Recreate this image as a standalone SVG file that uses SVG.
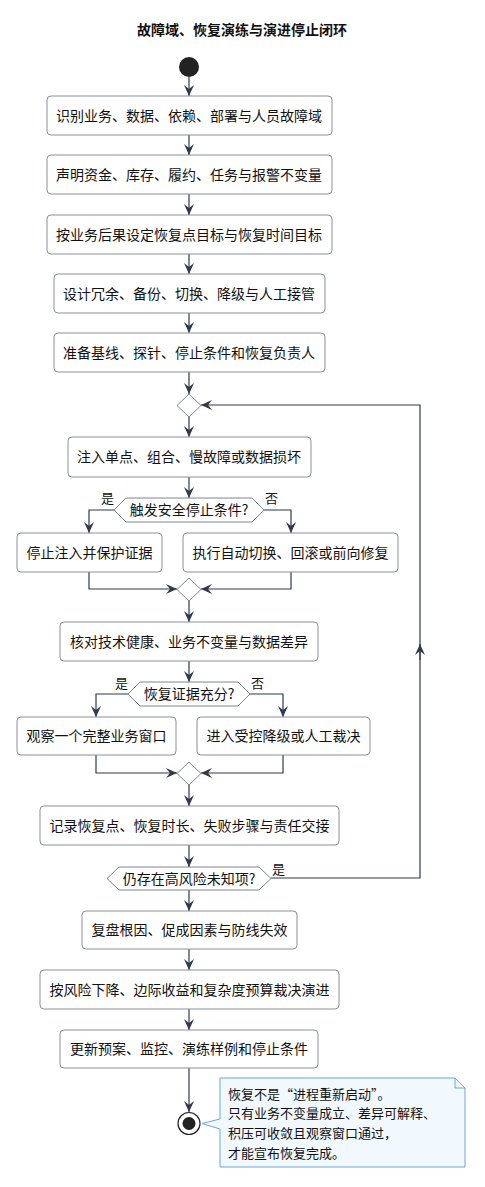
<svg xmlns="http://www.w3.org/2000/svg" width="485" height="1187" viewBox="0 0 485 1187">
<style>
text{font-family:"Noto Sans CJK SC","Noto Sans",sans-serif;fill:#111;}
.t{font-size:14px;text-anchor:middle;}
.title{font-size:14px;font-weight:bold;text-anchor:middle;}
.lbl{font-size:13px;}
.note{font-size:13px;}
.box{fill:#fff;stroke:#8a909b;stroke-width:1;}
.dia{fill:#fff;stroke:#7d8594;stroke-width:1;}
.c{fill:none;stroke:#2f3a4d;stroke-width:1.2;}
</style>
<defs>
<marker id="ah" viewBox="0 0 12 10" refX="11" refY="5" markerWidth="12" markerHeight="10" markerUnits="userSpaceOnUse" orient="auto">
<path d="M0,0 L11,5 L0,10 L4,5 z" fill="#2f3a4d"/>
</marker>
</defs>
<text class="title" x="242" y="35">故障域、恢复演练与演进停止闭环</text>
<g id="connectors">
<path class="c" marker-end="url(#ah)" d="M189,77 V96"/>
<path class="c" marker-end="url(#ah)" d="M189,135 V155"/>
<path class="c" marker-end="url(#ah)" d="M189,194 V215"/>
<path class="c" marker-end="url(#ah)" d="M189,254 V274"/>
<path class="c" marker-end="url(#ah)" d="M189,313 V333"/>
<path class="c" marker-end="url(#ah)" d="M189,372 V394"/>
<path class="c" marker-end="url(#ah)" d="M189,417 V437"/>
<path class="c" marker-end="url(#ah)" d="M189,477 V498"/>
<path class="c" marker-end="url(#ah)" d="M114,510 H89 V533"/>
<path class="c" marker-end="url(#ah)" d="M264,510 H291 V533"/>
<path class="c" marker-end="url(#ah)" d="M89,572 V589 H177"/>
<path class="c" marker-end="url(#ah)" d="M291,572 V589 H201"/>
<path class="c" marker-end="url(#ah)" d="M189,601 V622"/>
<path class="c" marker-end="url(#ah)" d="M189,661 V682"/>
<path class="c" marker-end="url(#ah)" d="M128,694 H96 V717"/>
<path class="c" marker-end="url(#ah)" d="M250,694 H283 V717"/>
<path class="c" marker-end="url(#ah)" d="M96,755 V773 H177"/>
<path class="c" marker-end="url(#ah)" d="M283,755 V773 H201"/>
<path class="c" marker-end="url(#ah)" d="M189,785 V806"/>
<path class="c" marker-end="url(#ah)" d="M189,845 V867"/>
<path class="c" marker-end="url(#ah)" d="M271,878 H420 V405 H201"/>
<path class="c" marker-end="url(#ah)" d="M420,660 V644"/>
<path class="c" marker-end="url(#ah)" d="M189,890 V911"/>
<path class="c" marker-end="url(#ah)" d="M189,949 V970"/>
<path class="c" marker-end="url(#ah)" d="M189,1009 V1030"/>
<path class="c" marker-end="url(#ah)" d="M189,1068 V1112"/>
</g>
<g id="start"><circle cx="189" cy="67" r="10" fill="#222"/></g>
<g id="n1"><rect class="box" x="47" y="96" width="285" height="39" rx="4"/><text class="t" x="189" y="121">识别业务、数据、依赖、部署与人员故障域</text></g>
<g id="n2"><rect class="box" x="47" y="155" width="285" height="39" rx="4"/><text class="t" x="189" y="180">声明资金、库存、履约、任务与报警不变量</text></g>
<g id="n3"><rect class="box" x="47" y="215" width="285" height="39" rx="4"/><text class="t" x="189" y="240">按业务后果设定恢复点目标与恢复时间目标</text></g>
<g id="n4"><rect class="box" x="54" y="274" width="271" height="39" rx="4"/><text class="t" x="189" y="299">设计冗余、备份、切换、降级与人工接管</text></g>
<g id="n5"><rect class="box" x="54" y="333" width="271" height="39" rx="4"/><text class="t" x="189" y="358">准备基线、探针、停止条件和恢复负责人</text></g>
<g id="m1"><polygon class="dia" points="189,394 201,405.5 189,417 177,405.5"/></g>
<g id="n6"><rect class="box" x="68" y="437" width="243" height="40" rx="4"/><text class="t" x="189" y="462">注入单点、组合、慢故障或数据损坏</text></g>
<g id="d1"><polygon class="dia" points="114,510 126,498 252,498 264,510 252,522 126,522"/><text class="t" x="189" y="515">触发安全停止条件?</text>
<text class="lbl" x="101" y="503">是</text><text class="lbl" x="265" y="503">否</text></g>
<g id="n7"><rect class="box" x="17" y="533" width="145" height="39" rx="4"/><text class="t" x="89.5" y="558">停止注入并保护证据</text></g>
<g id="n8"><rect class="box" x="183" y="533" width="215" height="39" rx="4"/><text class="t" x="290.5" y="558">执行自动切换、回滚或前向修复</text></g>
<g id="m2"><polygon class="dia" points="189,578 201,589.5 189,601 177,589.5"/></g>
<g id="n9"><rect class="box" x="60" y="622" width="258" height="39" rx="4"/><text class="t" x="189" y="647">核对技术健康、业务不变量与数据差异</text></g>
<g id="d2"><polygon class="dia" points="128,694 140,682 238,682 250,694 238,706 140,706"/><text class="t" x="189" y="699">恢复证据充分?</text>
<text class="lbl" x="115" y="688">是</text><text class="lbl" x="251" y="688">否</text></g>
<g id="n10"><rect class="box" x="17" y="717" width="159" height="38" rx="4"/><text class="t" x="96.5" y="741">观察一个完整业务窗口</text></g>
<g id="n11"><rect class="box" x="197" y="717" width="173" height="38" rx="4"/><text class="t" x="283.5" y="741">进入受控降级或人工裁决</text></g>
<g id="m3"><polygon class="dia" points="189,762 201,773.5 189,785 177,773.5"/></g>
<g id="n12"><rect class="box" x="40" y="806" width="299" height="39" rx="4"/><text class="t" x="189.5" y="831">记录恢复点、恢复时长、失败步骤与责任交接</text></g>
<g id="d3"><polygon class="dia" points="107,878.5 119,867 259,867 271,878.5 259,890 119,890"/><text class="t" x="189" y="883.5">仍存在高风险未知项?</text>
<text class="lbl" x="272" y="874">是</text></g>
<g id="n13"><rect class="box" x="82" y="911" width="215" height="38" rx="4"/><text class="t" x="189.5" y="935">复盘根因、促成因素与防线失效</text></g>
<g id="n14"><rect class="box" x="40" y="970" width="299" height="39" rx="4"/><text class="t" x="189.5" y="995">按风险下降、边际收益和复杂度预算裁决演进</text></g>
<g id="n15"><rect class="box" x="60" y="1030" width="258" height="38" rx="4"/><text class="t" x="189" y="1054">更新预案、监控、演练样例和停止条件</text></g>
<g id="end"><circle cx="189" cy="1123.5" r="11" fill="#fff" stroke="#222" stroke-width="1.2"/><circle cx="189" cy="1123.5" r="6.5" fill="#222"/></g>
<g id="note">
<path d="M220,1078 H455 L465,1088 V1167 H220 V1129 L202,1123.5 L220,1119 Z" fill="#f1f8fe" stroke="#6aa8d4" stroke-width="1"/>
<path d="M455,1078 V1088 H465" fill="none" stroke="#6aa8d4" stroke-width="1"/>
<text class="note" x="228" y="1099">恢复不是“进程重新启动”。</text>
<text class="note" x="228" y="1118">只有业务不变量成立、差异可解释、</text>
<text class="note" x="228" y="1138">积压可收敛且观察窗口通过，</text>
<text class="note" x="228" y="1158">才能宣布恢复完成。</text>
</g>
</svg>
